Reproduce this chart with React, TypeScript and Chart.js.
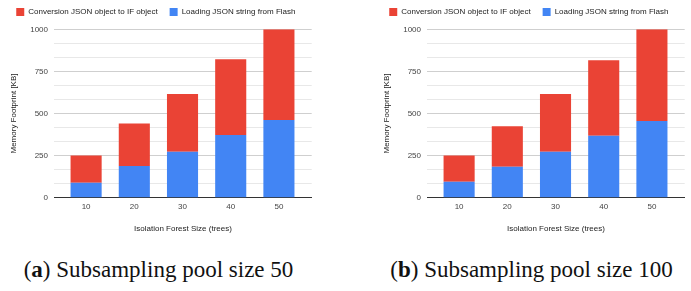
import React, { useEffect, useRef } from "react";
import { Chart, registerables } from "chart.js";

Chart.register(...registerables);

// ---- Data ----
const forestSizes = [10, 20, 30, 40, 50];
// Pool size 50
const loadingA = [89, 188, 273, 372, 461];
const conversionA = [161, 252, 343, 450, 539];
// Pool size 100
const loadingB = [95, 184, 273, 368, 455];
const conversionB = [156, 240, 343, 448, 545];

const seriesNames = ["Loading JSON string from Flash", "Conversion JSON object to IF object"];
const yTicks = [0, 250, 500, 750, 1000];
const captions = ["a", "b"];
const captionText = [" Subsampling pool size 50", " Subsampling pool size 100"];

const RED = "#ea4335";
const BLUE = "#4285f4";
const FONT = "'Liberation Sans', Arial, sans-serif";

const legendSpacer = {
  id: "legendSpacer",
  beforeInit(chart: any) {
    const legend = chart.legend;
    if (!legend) return;
    const orig = legend.fit;
    legend.fit = function () {
      orig.call(this);
      this.height += 3.3;
    };
  },
};

function isMajor(v: number) {
  return Math.abs(v / 250 - Math.round(v / 250)) < 1e-6;
}

function StackChart({ loading, conversion }: { loading: number[]; conversion: number[] }) {
  const ref = useRef<HTMLCanvasElement | null>(null);
  useEffect(() => {
    if (!ref.current) return;
    const chart = new Chart(ref.current, {
      type: "bar",
      data: {
        datasets: [
          {
            label: seriesNames[0],
            data: forestSizes.map((x, i) => ({ x, y: loading[i] })),
            backgroundColor: BLUE,
            borderWidth: 0,
          },
          {
            label: seriesNames[1],
            data: forestSizes.map((x, i) => ({ x, y: conversion[i] })),
            backgroundColor: RED,
            borderWidth: 0,
          },
        ],
      },
      options: {
        responsive: false,
        animation: false,
        layout: { padding: { top: -4, left: 0, right: 5.3, bottom: 6.2 } },
        datasets: { bar: { barPercentage: 1, categoryPercentage: 0.645 } },
        plugins: {
          legend: {
            position: "top",
            align: "center",
            labels: {
              boxWidth: 8,
              boxHeight: 8,
              padding: 12,
              color: "#222",
              font: { family: FONT, size: 8 },
              sort: (a: any, b: any) => b.datasetIndex - a.datasetIndex,
            },
          },
          tooltip: { enabled: false },
        },
        scales: {
          x: {
            type: "linear",
            stacked: true,
            offset: false,
            min: 3.4,
            max: 56.8,
            afterBuildTicks: (scale: any) => {
              scale.ticks = forestSizes.map((v) => ({ value: v }));
            },
            grid: { display: false, drawTicks: false },
            border: { display: true, color: "#333", width: 1 },
            ticks: {
              autoSkip: false,
              padding: 4.5,
              color: "#444",
              font: { family: FONT, size: 8 },
              callback: (v: any) => String(v),
            },
            title: {
              display: true,
              text: "Isolation Forest Size (trees)",
              color: "#222",
              font: { family: FONT, size: 8 },
              padding: { top: 7.9, bottom: 0 },
            },
          },
          y: {
            stacked: true,
            min: 0,
            max: 1000,
            afterBuildTicks: (scale: any) => {
              const t: any[] = [];
              for (let i = 0; i < yTicks.length - 1; i++) {
                const a = yTicks[i];
                const step = (yTicks[i + 1] - a) / 3;
                t.push({ value: a }, { value: a + step }, { value: a + 2 * step });
              }
              t.push({ value: yTicks[yTicks.length - 1] });
              scale.ticks = t;
            },
            grid: {
              drawTicks: false,
              color: (ctx: any) => {
                const v = ctx.tick ? ctx.tick.value : 0;
                if (Math.abs(v) < 1e-6) return "#333";
                return isMajor(v) ? "#cfcfcf" : "#e8e8e8";
              },
              lineWidth: 1,
            },
            border: { display: false },
            ticks: {
              autoSkip: false,
              padding: 6.3,
              color: "#444",
              font: { family: FONT, size: 8 },
              callback: (v: any) => (isMajor(Number(v)) ? String(Math.round(Number(v))) : ""),
            },
            title: {
              display: true,
              text: "Memory Footprint [KB]",
              color: "#222",
              font: { family: FONT, size: 8 },
              padding: { top: 9.2, bottom: 5.1 },
            },
          },
        },
      } as any,
      plugins: [legendSpacer],
    });
    return () => chart.destroy();
  }, [loading, conversion]);
  return <canvas ref={ref} width={317} height={240} style={{ display: "block" }} />;
}

export default function App() {
  const panels = [
    { left: 0, loading: loadingA, conversion: conversionA },
    { left: 373, loading: loadingB, conversion: conversionB },
  ];
  return (
    <div
      style={{
        position: "absolute",
        left: 0,
        top: 0,
        width: 691,
        height: 291,
        background: "#fff",
        overflow: "hidden",
      }}
    >
      {panels.map((p, i) => (
        <React.Fragment key={i}>
          <div style={{ position: "absolute", left: p.left, top: 0, width: 317, height: 240 }}>
            <StackChart loading={p.loading} conversion={p.conversion} />
          </div>
          <div
            style={{
              position: "absolute",
              left: p.left,
              top: 257,
              width: 317,
              textAlign: "center",
              fontFamily: "'Liberation Serif', 'DejaVu Serif', serif",
              fontSize: 23,
              color: "#111",
              whiteSpace: "nowrap",
            }}
          >
            (<b>{captions[i]}</b>){captionText[i]}
          </div>
        </React.Fragment>
      ))}
    </div>
  );
}
